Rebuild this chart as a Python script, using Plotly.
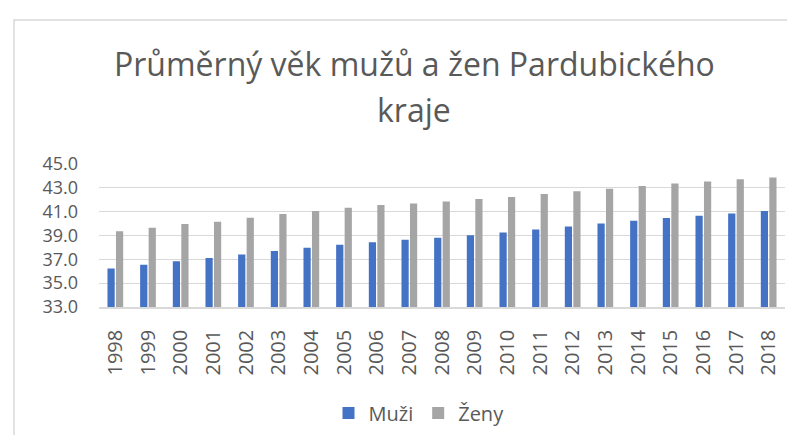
import plotly.graph_objects as go

years = [str(y) for y in range(1998, 2019)]
muzi = [36.24, 36.54, 36.84, 37.12, 37.40, 37.70, 37.98, 38.23, 38.44, 38.64, 38.81,
        39.02, 39.25, 39.50, 39.75, 40.00, 40.24, 40.47, 40.66, 40.85, 41.05]
zeny = [39.36, 39.64, 39.97, 40.16, 40.49, 40.80, 41.05, 41.32, 41.55, 41.68, 41.85,
        42.07, 42.24, 42.49, 42.71, 42.93, 43.15, 43.37, 43.54, 43.73, 43.87]
y_ticks = [33, 35, 37, 39, 41, 43, 45]
series_names = ["Muži", "Ženy"]
title_lines = ["Průměrný věk mužů a žen Pardubického", "kraje"]

FONT = "Open Sans"
TXT = "#595959"

fig = go.Figure()
fig.add_trace(go.Bar(x=years, y=muzi, name=series_names[0], marker_color="#4472C4",
                     marker_line_width=0))
fig.add_trace(go.Bar(x=years, y=zeny, name=series_names[1], marker_color="#A5A5A5",
                     marker_line_width=0))

L, R, T, B = 91, 18, 156, 135
W, H = 795, 435
pw, ph = W - L - R, H - T - B

def px(xp):
    return (xp - L) / pw

def py(yp):
    return (H - B - yp) / ph

fig.update_layout(
    width=W, height=H,
    margin=dict(l=L, r=R, t=T, b=B),
    paper_bgcolor="white", plot_bgcolor="white",
    barmode="group", bargap=0.48, bargroupgap=0.15,
    font=dict(family=FONT, color=TXT),
    showlegend=True,
    legend=dict(orientation="h", x=px(411), y=py(405), xanchor="center", yanchor="middle",
                font=dict(size=20, color=TXT), itemwidth=30, traceorder="normal",
                tracegroupgap=0),
    xaxis=dict(type="category", tickangle=-90, tickfont=dict(size=20, color=TXT),
               showline=True, linecolor="#D9D9D9", linewidth=1.5, ticks="",
               ticklabelstandoff=13, showgrid=False),
    yaxis=dict(range=[33, 45], tickvals=y_ticks, ticktext=[f"{v:.1f}" for v in y_ticks],
               tickfont=dict(size=18, color=TXT), showgrid=True, gridcolor="#D9D9D9",
               gridwidth=1.2, zeroline=False, showline=False, ticks="",
               ticklabelstandoff=20),
    shapes=[dict(type="rect", xref="paper", yref="paper",
                 x0=px(6), x1=px(810), y0=py(450), y1=py(11),
                 line=dict(color="#D9D9D9", width=1.5), fillcolor="rgba(0,0,0,0)",
                 layer="below")],
    annotations=[
        dict(text=title_lines[0], xref="paper", yref="paper", x=px(406), y=py(54.5),
             xanchor="center", yanchor="middle", showarrow=False,
             font=dict(size=32, color=TXT, family=FONT)),
        dict(text=title_lines[1], xref="paper", yref="paper", x=px(406), y=py(101.5),
             xanchor="center", yanchor="middle", showarrow=False,
             font=dict(size=32, color=TXT, family=FONT)),
    ],
)

fig.write_html("out.html")
